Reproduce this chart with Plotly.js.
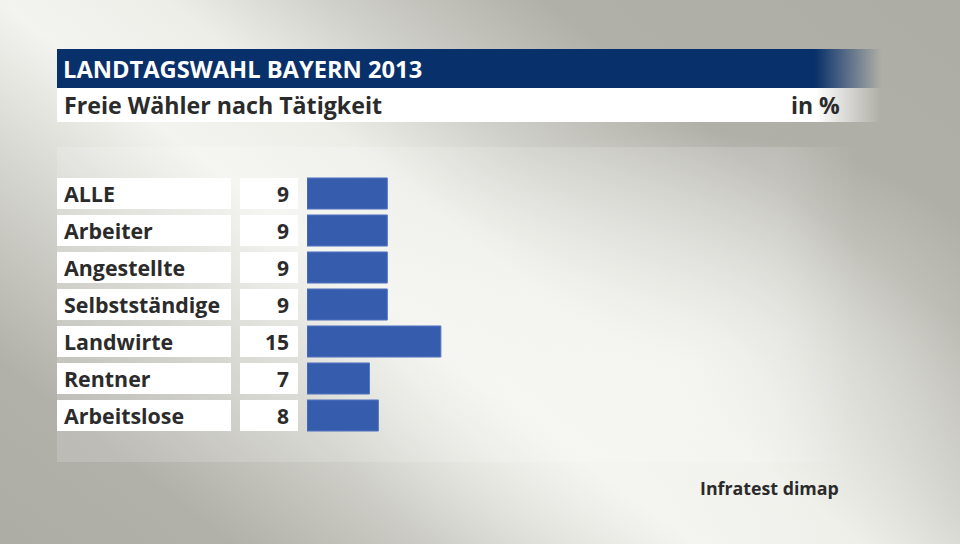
<!DOCTYPE html>
<html>
<head>
<meta charset="utf-8">
<script src="https://cdn.plot.ly/plotly-3.0.1.min.js"></script>
<style>
  html, body { margin: 0; padding: 0; }
  body {
    width: 960px; height: 544px; overflow: hidden;
    background:
      radial-gradient(ellipse 360px 240px at 680px 370px, rgba(246,247,242,0.8), rgba(246,247,242,0)),
      linear-gradient(38deg, #aeada5 0%, #b1b0a9 14%, #d6d6d0 30%, #f3f4ef 42%, #eeeee9 52%, #d0d0ca 62%, #b0afa8 75%, #aeada5 100%);
  }
  #plot { width: 960px; height: 544px; }
</style>
</head>
<body>
<div id="plot"></div>
<script>
// data
var groups = ["ALLE", "Arbeiter", "Angestellte", "Selbstständige", "Landwirte", "Rentner", "Arbeitslose"];
var percent = [9, 9, 9, 9, 15, 7, 8];

var chartTitle = "LANDTAGSWAHL BAYERN 2013";
var subtitle = "Freie Wähler nach Tätigkeit";
var unit = "in %";
var source = "Infratest dimap";

// plot area in pixels
var W = 960, H = 544;
var plotL = 307, plotW = 357, plotT = 175, plotH = 259;
var font = "Open Sans, Noto Sans, sans-serif";
var ink = "#2b2b2b";

function px(x) { return (x - plotL) / plotW; }
function py(y) { return (plotT + plotH - y) / plotH; }

var shapes = [];
var annotations = [];

// lighter panel behind the rows, softly ending on the right
shapes.push({type: "rect", xref: "paper", yref: "paper", x0: px(57), x1: px(780), y0: py(462), y1: py(147),
  fillcolor: "rgba(255,255,255,0.16)", line: {width: 0}, layer: "below"});
for (var p = 0; p < 20; p++) {
  var pa = 0.16 * (1 - (p + 0.5) / 20);
  shapes.push({type: "rect", xref: "paper", yref: "paper", x0: px(780 + p * 4), x1: px(784 + p * 4),
    y0: py(462), y1: py(147), fillcolor: "rgba(255,255,255," + pa.toFixed(3) + ")", line: {width: 0}, layer: "below"});
}

// title bar with fading right end
shapes.push({type: "rect", xref: "paper", yref: "paper", x0: px(57), x1: px(815), y0: py(88), y1: py(49),
  fillcolor: "#08306a", line: {width: 0}, layer: "below"});
shapes.push({type: "rect", xref: "paper", yref: "paper", x0: px(57), x1: px(815), y0: py(122), y1: py(88),
  fillcolor: "#ffffff", line: {width: 0}, layer: "below"});
var steps = 33;
for (var s = 0; s < steps; s++) {
  var a = 1 - (s + 0.5) / steps;
  var x0 = 815 + s * 2, x1 = x0 + 2;
  shapes.push({type: "rect", xref: "paper", yref: "paper", x0: px(x0), x1: px(x1), y0: py(88), y1: py(49),
    fillcolor: "rgba(8,48,106," + a.toFixed(3) + ")", line: {width: 0}, layer: "below"});
  shapes.push({type: "rect", xref: "paper", yref: "paper", x0: px(x0), x1: px(x1), y0: py(122), y1: py(88),
    fillcolor: "rgba(255,255,255," + a.toFixed(3) + ")", line: {width: 0}, layer: "below"});
}

annotations.push({text: "<b>" + chartTitle + "</b>", xref: "paper", yref: "paper", x: px(61), y: py(69),
  xanchor: "left", yanchor: "middle", showarrow: false, font: {family: font, size: 23.7, color: "#ffffff"}});
annotations.push({text: "<b>" + subtitle + "</b>", xref: "paper", yref: "paper", x: px(62), y: py(105),
  xanchor: "left", yanchor: "middle", showarrow: false, font: {family: font, size: 23.2, color: ink}});
annotations.push({text: "<b>" + unit + "</b>", xref: "paper", yref: "paper", x: px(842), y: py(105),
  xanchor: "right", yanchor: "middle", showarrow: false, font: {family: font, size: 23, color: ink}});
annotations.push({text: "<b>" + source + "</b>", xref: "paper", yref: "paper", x: px(841), y: py(488),
  xanchor: "right", yanchor: "middle", showarrow: false, font: {family: font, size: 17.8, color: ink}});

// row cells and labels
groups.forEach(function (g, i) {
  shapes.push({type: "rect", xref: "paper", yref: "y", x0: px(57), x1: px(231), y0: i - 0.42, y1: i + 0.42,
    fillcolor: "#ffffff", line: {width: 0}, layer: "below"});
  shapes.push({type: "rect", xref: "paper", yref: "y", x0: px(240), x1: px(298), y0: i - 0.42, y1: i + 0.42,
    fillcolor: "#ffffff", line: {width: 0}, layer: "below"});
  annotations.push({text: "<b>" + g + "</b>", xref: "paper", yref: "y", x: px(62), y: i,
    xanchor: "left", yanchor: "middle", showarrow: false, font: {family: font, size: 21.4, color: ink}});
  annotations.push({text: "<b>" + percent[i] + "</b>", xref: "paper", yref: "y", x: px(291), y: i,
    xanchor: "right", yanchor: "middle", showarrow: false, font: {family: font, size: 21, color: ink}});
});

var trace = {
  type: "bar",
  orientation: "h",
  x: percent,
  y: groups,
  width: 0.84,
  marker: {color: "#365cad", line: {color: "#5677c2", width: 1}},
  hoverinfo: "none"
};

var layout = {
  width: W, height: H,
  margin: {l: plotL, r: W - plotL - plotW, t: plotT, b: H - plotT - plotH, pad: 0},
  paper_bgcolor: "rgba(0,0,0,0)",
  plot_bgcolor: "rgba(0,0,0,0)",
  showlegend: false,
  xaxis: {range: [0, 40], visible: false, fixedrange: true},
  yaxis: {type: "category", categoryorder: "array", categoryarray: groups,
    range: [6.5, -0.5], visible: false, fixedrange: true},
  shapes: shapes,
  annotations: annotations
};

Plotly.newPlot("plot", [trace], layout, {displayModeBar: false, staticPlot: true});
</script>
</body>
</html>
